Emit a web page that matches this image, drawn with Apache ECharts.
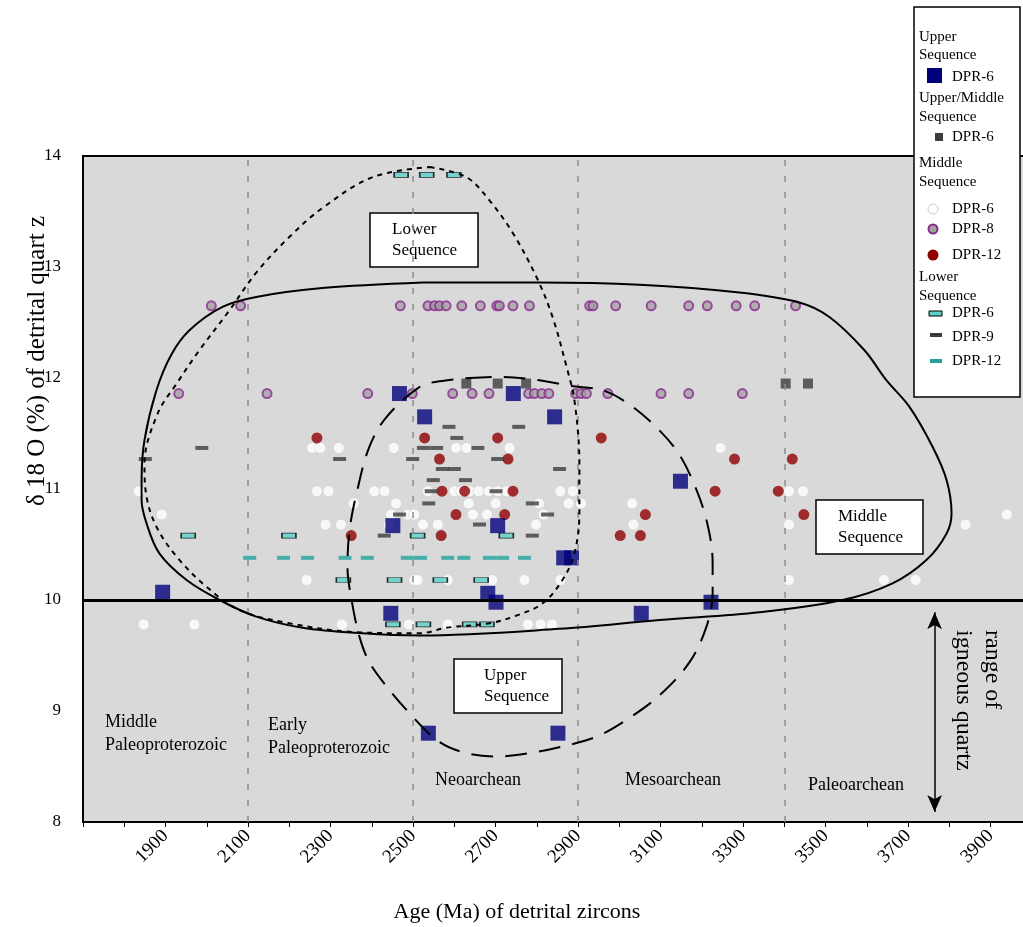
<!DOCTYPE html>
<html>
<head>
<meta charset="utf-8">
<script src="https://cdn.jsdelivr.net/npm/echarts@6/dist/echarts.min.js"></script>
<style>
  html, body { margin: 0; padding: 0; background: #ffffff; }
  #chart { width: 1023px; height: 927px; }
</style>
</head>
<body>
<div id="chart"></div>
<script>
// ---- data: [age (Ma), δ18O (‰)] ----
const upperDPR6 = [
  [2467, 11.86], [2528, 11.65], [2743, 11.86], [2843, 11.65], [3148, 11.07],
  [2451, 10.67], [2705, 10.67], [2865, 10.38], [2884, 10.38], [1893, 10.07],
  [2681, 10.06], [2701, 9.98], [3222, 9.98], [2446, 9.88], [3053, 9.88],
  [2537, 8.80], [2851, 8.80]
];
const upperMiddleDPR6 = [
  [2629, 11.95], [2705, 11.95], [2774, 11.95], [3403, 11.95], [3457, 11.95]
];
const middleDPR6 = [
  [2255, 11.37], [2275, 11.37], [2320, 11.37], [2453, 11.37], [2604, 11.37], [2630, 11.37], [2734, 11.37], [3245, 11.37],
  [1835, 10.98], [2267, 10.98], [2295, 10.98], [2406, 10.98], [2431, 10.98], [2536, 10.98], [2600, 10.98], [2617, 10.98],
  [2637, 10.98], [2659, 10.98], [2683, 10.98], [2705, 10.98], [2726, 10.98], [2857, 10.98], [2887, 10.98], [3411, 10.98], [3445, 10.98],
  [2356, 10.87], [2459, 10.87], [2635, 10.87], [2700, 10.87], [2805, 10.87], [2877, 10.87], [2907, 10.87], [3031, 10.87],
  [1891, 10.77], [2447, 10.77], [2487, 10.77], [2503, 10.77], [2645, 10.77], [2679, 10.77], [2817, 10.77], [3939, 10.77],
  [2288, 10.68], [2325, 10.68], [2441, 10.68], [2524, 10.68], [2560, 10.68], [2798, 10.68], [3034, 10.68], [3411, 10.68], [3839, 10.68],
  [2242, 10.18], [2503, 10.18], [2511, 10.18], [2584, 10.18], [2692, 10.18], [2770, 10.18], [2857, 10.18], [3411, 10.18], [3641, 10.18], [3718, 10.18],
  [1847, 9.78], [1970, 9.78], [2328, 9.78], [2490, 9.78], [2584, 9.78], [2778, 9.78], [2809, 9.78], [2837, 9.78]
];
const middleDPR8 = [
  [2011, 12.65], [2082, 12.65], [2469, 12.65], [2536, 12.65], [2552, 12.65], [2564, 12.65], [2580, 12.65], [2618, 12.65],
  [2663, 12.65], [2703, 12.65], [2709, 12.65], [2742, 12.65], [2782, 12.65], [2928, 12.65], [2936, 12.65], [2991, 12.65],
  [3077, 12.65], [3168, 12.65], [3213, 12.65], [3283, 12.65], [3328, 12.65], [3427, 12.65],
  [1932, 11.86], [2146, 11.86], [2390, 11.86], [2498, 11.86], [2596, 11.86], [2643, 11.86], [2684, 11.86], [2780, 11.86],
  [2794, 11.86], [2812, 11.86], [2829, 11.86], [2894, 11.86], [2907, 11.86], [2920, 11.86], [2972, 11.86], [3101, 11.86],
  [3168, 11.86], [3298, 11.86]
];
const middleDPR12 = [
  [2267, 11.46], [2528, 11.46], [2705, 11.46], [2956, 11.46],
  [2564, 11.27], [2730, 11.27], [3279, 11.27], [3419, 11.27],
  [2570, 10.98], [2625, 10.98], [2742, 10.98], [3232, 10.98], [3385, 10.98],
  [2604, 10.77], [2722, 10.77], [3063, 10.77], [3447, 10.77],
  [2350, 10.58], [2568, 10.58], [3002, 10.58], [3051, 10.58]
];
const lowerDPR6 = [
  [2471, 13.83], [2533, 13.83], [2599, 13.83],
  [1955, 10.58], [2199, 10.58], [2511, 10.58], [2726, 10.58],
  [2331, 10.18], [2455, 10.18], [2566, 10.18], [2665, 10.18],
  [2451, 9.78], [2525, 9.78], [2637, 9.78], [2679, 9.78]
];
const lowerDPR9 = [
  [1988, 11.37], [2587, 11.56], [2756, 11.56], [2606, 11.46], [2525, 11.37], [2557, 11.37], [2657, 11.37],
  [1851, 11.27], [2322, 11.27], [2499, 11.27], [2705, 11.27], [2571, 11.18], [2600, 11.18], [2855, 11.18],
  [2549, 11.08], [2627, 11.08], [2544, 10.98], [2701, 10.98], [2538, 10.87], [2789, 10.87],
  [2467, 10.77], [2826, 10.77], [2661, 10.68], [2430, 10.58], [2789, 10.58]
];
const lowerDPR12 = [
  [2104, 10.38], [2186, 10.38], [2244, 10.38], [2335, 10.38], [2389, 10.38], [2486, 10.38],
  [2518, 10.38], [2584, 10.38], [2623, 10.38], [2685, 10.38], [2717, 10.38], [2770, 10.38]
];

// field outlines of each sequence, [age, δ18O]
const middleField = [
  [2523, 12.86], [2806, 12.86], [3049, 12.84], [3291, 12.77], [3436, 12.68], [3509, 12.55], [3594, 12.25],
  [3647, 11.98], [3703, 11.74], [3759, 11.38], [3793, 11.08], [3805, 10.78], [3793, 10.60], [3744, 10.36],
  [3662, 10.15], [3541, 10.00], [3340, 9.89], [3097, 9.82], [2855, 9.74], [2516, 9.68], [2377, 9.70],
  [2232, 9.75], [2120, 9.85], [2031, 10.00], [1951, 10.18], [1885, 10.42], [1854, 10.69], [1842, 10.90],
  [1842, 11.08], [1849, 11.44], [1878, 11.89], [1914, 12.21], [1958, 12.43], [2038, 12.64], [2120, 12.73],
  [2280, 12.81], [2523, 12.86]
];
const lowerField = [
  [2540, 13.90], [2629, 13.81], [2685, 13.60], [2741, 13.31], [2799, 12.91], [2838, 12.55], [2872, 12.10],
  [2891, 11.80], [2903, 11.23], [2903, 10.78], [2891, 10.42], [2862, 10.18], [2814, 9.97], [2751, 9.86],
  [2685, 9.79], [2581, 9.75], [2516, 9.70], [2363, 9.71], [2200, 9.79], [2079, 9.91], [1999, 10.12],
  [1927, 10.39], [1878, 10.66], [1854, 10.93], [1849, 11.23], [1881, 11.68], [1927, 11.95], [1982, 12.25],
  [2055, 12.61], [2120, 12.95], [2200, 13.27], [2280, 13.53], [2402, 13.81], [2540, 13.90]
];
const upperField = [
  [2637, 12.00], [2709, 12.01], [2806, 11.98], [2879, 11.93], [2959, 11.89], [3017, 11.78], [3080, 11.59],
  [3138, 11.35], [3177, 11.08], [3211, 10.72], [3226, 10.33], [3226, 10.06], [3211, 9.76], [3170, 9.44],
  [3097, 9.14], [3017, 8.92], [2945, 8.77], [2862, 8.68], [2782, 8.62], [2702, 8.59], [2620, 8.63],
  [2557, 8.74], [2484, 9.01], [2436, 9.22], [2394, 9.44], [2370, 9.67], [2351, 10.00], [2341, 10.30],
  [2346, 10.63], [2363, 10.96], [2394, 11.38], [2436, 11.65], [2516, 11.92], [2564, 11.97], [2637, 12.00]
];

// era boundaries (Ma) and the upper limit of igneous quartz
const eraBoundaries = [2100, 2500, 2900, 3400];
const igneousTop = 10;
const igneousRange = [9.89, 8.09];
const igneousArrowAge = 3764;

const SERIF = '"Liberation Serif", "DejaVu Serif", serif';
const NAVY = '#00007a', DARK = '#3c3c3c', PURPLE = '#8a2a8e', PURPLE_FILL = '#a2a2a2',
      RED = '#8e0000', TEAL_FILL = '#5cd0c8', TEAL = '#23a39c';

const chart = echarts.init(document.getElementById('chart'), null, { renderer: 'canvas' });

function scatter(name, data, symbol, size, itemStyle, z) {
  return { name, type: 'scatter', data, symbol, symbolSize: size, itemStyle, z: z || 3, silent: true };
}
function outline(name, data, dash) {
  return {
    name, type: 'line', data, smooth: 0.35, symbol: 'none', silent: true, z: 5,
    lineStyle: { color: '#000', width: 2, type: dash || 'solid' }
  };
}

function boxLabel(x, y, w, h, tx, lines) {
  return {
    type: 'group', x, y, z: 100,
    children: [
      { type: 'rect', shape: { x: 0, y: 0, width: w, height: h },
        style: { fill: '#fff', stroke: '#000', lineWidth: 1.5 } },
      { type: 'text', x: tx, y: h / 2,
        style: { text: lines.join('\n'), font: '17px ' + SERIF, fill: '#000',
                 lineHeight: 21, verticalAlign: 'middle', align: 'left' } }
    ]
  };
}
function txt(x, y, text, size, extra) {
  return Object.assign({ type: 'text', x, y, z: 100,
    style: { text, font: size + 'px ' + SERIF, fill: '#000', verticalAlign: 'middle', align: 'left' } }, extra || {});
}

// legend, drawn as a framed panel with group headings
const LX = 914, LY = 7;
const legend = {
  type: 'group', x: LX, y: LY, z: 120,
  children: [
    { type: 'rect', shape: { x: 0, y: 0, width: 106, height: 390 }, style: { fill: '#fff', stroke: '#000', lineWidth: 1.5 } },
    txt(5, 30, 'Upper', 15), txt(5, 48, 'Sequence', 15),
    { type: 'rect', shape: { x: 13, y: 61, width: 15, height: 15 }, style: { fill: NAVY } },
    txt(38, 70, 'DPR-6', 15),
    txt(5, 91, 'Upper/Middle', 15), txt(5, 110, 'Sequence', 15),
    { type: 'rect', shape: { x: 21, y: 126, width: 8, height: 8 }, style: { fill: DARK } },
    txt(38, 130, 'DPR-6', 15),
    txt(5, 156, 'Middle', 15), txt(5, 175, 'Sequence', 15),
    { type: 'circle', shape: { cx: 19, cy: 202, r: 5 }, style: { fill: '#fff', stroke: '#ccc', lineWidth: 1 } },
    txt(38, 202, 'DPR-6', 15),
    { type: 'circle', shape: { cx: 19, cy: 222, r: 4.5 }, style: { fill: PURPLE_FILL, stroke: PURPLE, lineWidth: 2 } },
    txt(38, 222, 'DPR-8', 15),
    { type: 'circle', shape: { cx: 19, cy: 248, r: 5.5 }, style: { fill: RED } },
    txt(38, 248, 'DPR-12', 15),
    txt(5, 270, 'Lower', 15), txt(5, 289, 'Sequence', 15),
    { type: 'rect', shape: { x: 15, y: 304, width: 13, height: 5 }, style: { fill: TEAL_FILL, stroke: '#000', lineWidth: 1 } },
    txt(38, 306, 'DPR-6', 15),
    { type: 'rect', shape: { x: 16, y: 326, width: 12, height: 4 }, style: { fill: DARK } },
    txt(38, 330, 'DPR-9', 15),
    { type: 'rect', shape: { x: 16, y: 352, width: 12, height: 4 }, style: { fill: TEAL } },
    txt(38, 354, 'DPR-12', 15)
  ]
};

const option = {
  animation: false,
  backgroundColor: '#ffffff',
  grid: {
    left: 83, top: 156, right: -9, bottom: 105, show: true,
    outerBoundsMode: 'none',
    backgroundColor: '#d9d9d9', borderColor: '#000', borderWidth: 2
  },
  xAxis: {
    type: 'value', min: 1700, max: 4000, interval: 100,
    axisLine: { lineStyle: { color: '#000', width: 2 } },
    axisTick: { show: true, length: 5, lineStyle: { color: '#000', width: 1 } },
    splitLine: { show: false },
    axisLabel: {
      interval: 0, rotate: 45, margin: 11, color: '#000', fontFamily: SERIF, fontSize: 19,
      formatter: v => (v >= 1900 && (v - 1900) % 200 === 0) ? String(v) : ''
    }
  },
  yAxis: {
    type: 'value', min: 8, max: 14, interval: 1,
    axisLine: { lineStyle: { color: '#000', width: 2 } },
    axisTick: { show: false },
    splitLine: { show: false },
    axisLabel: { margin: 22, color: '#000', fontFamily: SERIF, fontSize: 17 }
  },
  series: [
    {
      name: 'frame', type: 'line', data: [], silent: true,
      markLine: {
        silent: true, symbol: 'none', label: { show: false },
        data: [
          ...eraBoundaries.map(a => ({ xAxis: a, lineStyle: { color: '#8c8c8c', width: 1.5, type: [6, 10] } })),
          { yAxis: igneousTop, lineStyle: { color: '#000', width: 3, type: 'solid' } }
        ]
      }
    },
    {
      name: 'igneous range', type: 'line', data: [], silent: true,
      markLine: {
        silent: true, symbol: ['arrow', 'arrow'], symbolSize: [11, 17], label: { show: false },
        lineStyle: { color: '#000', width: 1.5, type: 'solid' },
        data: [[{ coord: [igneousArrowAge, igneousRange[0]] }, { coord: [igneousArrowAge, igneousRange[1]] }]]
      }
    },
    scatter('Middle DPR-6', middleDPR6, 'circle', 11, { color: '#ffffff', borderColor: '#cfcfcf', borderWidth: 0.8 }),
    scatter('Middle DPR-8', middleDPR8, 'circle', 9, { color: PURPLE_FILL, borderColor: PURPLE, borderWidth: 2 }),
    scatter('Middle DPR-12', middleDPR12, 'circle', 11, { color: RED }),
    scatter('Lower DPR-6', lowerDPR6, 'rect', [14, 5], { color: TEAL_FILL, borderColor: '#000', borderWidth: 1 }),
    scatter('Lower DPR-9', lowerDPR9, 'rect', [13, 4], { color: DARK }),
    scatter('Lower DPR-12', lowerDPR12, 'rect', [13, 4], { color: TEAL }),
    scatter('Upper/Middle DPR-6', upperMiddleDPR6, 'rect', 10, { color: DARK }),
    scatter('Upper DPR-6', upperDPR6, 'rect', 15, { color: NAVY }, 4),
    outline('Middle Sequence field', middleField),
    outline('Lower Sequence field', lowerField, [5, 5]),
    outline('Upper Sequence field', upperField, [22, 12])
  ],
  graphic: [
    boxLabel(370, 213, 108, 54, 22, ['Lower', 'Sequence']),
    boxLabel(816, 500, 107, 54, 22, ['Middle', 'Sequence']),
    boxLabel(454, 659, 108, 54, 30, ['Upper', 'Sequence']),
    txt(105, 722, 'Middle', 18), txt(105, 745, 'Paleoproterozoic', 18),
    txt(268, 725, 'Early', 18), txt(268, 748, 'Paleoproterozoic', 18),
    txt(435, 780, 'Neoarchean', 18),
    txt(625, 780, 'Mesoarchean', 18),
    txt(808, 785, 'Paleoarchean', 18),
    txt(992, 630, 'range of', 24, { rotation: -Math.PI / 2 }),
    txt(963, 630, 'igneous quartz', 24, { rotation: -Math.PI / 2 }),
    { type: 'text', x: 37, y: 361, rotation: Math.PI / 2, z: 100,
      style: { text: 'δ 18 O (%) of detrital quart z', font: '25px ' + SERIF, fill: '#000',
               align: 'center', verticalAlign: 'middle' } },
    { type: 'text', x: 517, y: 912, z: 100,
      style: { text: 'Age (Ma) of detrital zircons', font: '22px ' + SERIF, fill: '#000',
               align: 'center', verticalAlign: 'middle' } },
    legend
  ]
};

chart.setOption(option);
</script>
</body>
</html>
